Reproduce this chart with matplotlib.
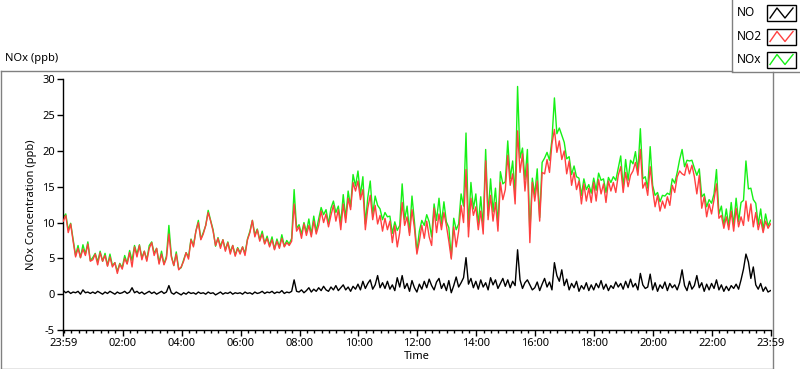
import numpy as np
import matplotlib
matplotlib.use("Agg")
import matplotlib.pyplot as plt
from matplotlib.patches import Rectangle

# ---- data: one sample every 5 minutes starting 23:59 ----
minutes = np.arange(0, 1441, 5)

no2 = [
    10.2, 11.0, 8.6, 9.8, 7.4, 5.2, 6.4, 5.1, 6.3, 5.4, 7.0, 4.6,
    4.8, 5.6, 4.1, 5.8, 4.6, 5.4, 3.9, 5.2, 3.8, 4.4, 2.9, 4.2,
    3.5, 5.0, 4.2, 5.8, 3.8, 6.6, 5.2, 6.8, 4.8, 6.0, 4.6, 6.4,
    7.2, 5.4, 6.4, 4.2, 5.6, 4.1, 5.0, 8.4, 5.2, 4.0, 5.6, 3.4,
    3.8, 4.6, 5.8, 4.9, 7.6, 6.6, 8.8, 10.0, 7.6, 8.4, 9.6, 11.4,
    10.2, 8.8, 6.8, 7.8, 6.4, 7.6, 6.0, 7.2, 5.6, 6.8, 5.3, 6.4,
    5.6, 6.6, 5.4, 7.6, 8.6, 10.3, 8.0, 9.0, 7.4, 8.4, 7.0, 7.8,
    6.6, 7.6, 6.2, 7.4, 6.4, 7.8, 6.6, 7.2, 6.8, 7.4, 12.6, 8.8,
    9.4, 7.8, 9.8, 8.2, 9.6, 8.0, 10.2, 8.4, 9.6, 11.6, 10.0, 11.2,
    9.4, 11.0, 12.4, 10.2, 11.8, 9.0, 12.6, 10.0, 13.4, 11.8, 15.6, 14.4,
    15.8, 13.2, 14.6, 9.0, 12.0, 13.8, 10.4, 12.4, 9.8, 11.0, 8.8, 10.6,
    9.0, 10.2, 7.2, 9.6, 6.6, 8.6, 12.8, 9.6, 10.8, 8.2, 11.8, 9.2,
    5.6, 7.4, 9.6, 7.8, 10.2, 8.0, 6.8, 12.0, 8.6, 11.2, 9.0, 11.4,
    9.6, 7.4, 4.9, 9.4, 6.6, 8.8, 12.4, 10.0, 17.4, 8.0, 13.4, 11.0,
    12.2, 9.0, 11.6, 8.4, 18.6, 10.4, 13.8, 10.2, 12.8, 8.8, 15.6, 13.2,
    14.6, 19.4, 15.2, 16.8, 12.6, 22.8, 17.0, 19.6, 14.4, 18.2, 7.2, 15.6,
    13.0, 15.8, 10.2, 17.0, 16.8, 18.8, 17.0, 21.0, 23.0, 19.8, 21.4, 18.8,
    20.0, 16.8, 18.6, 15.2, 17.0, 14.6, 15.8, 12.6, 15.4, 13.0, 14.8, 12.8,
    15.6, 13.0, 16.0, 14.0, 15.4, 12.8, 15.8, 14.4, 15.6, 14.2, 16.6, 17.8,
    14.2, 17.0, 15.0, 16.6, 17.2, 18.4, 16.6, 20.2, 14.8, 15.6, 13.8, 17.8,
    14.6, 12.2, 13.8, 11.6, 13.0, 12.0, 13.6, 12.4, 15.2, 14.2, 16.4, 17.2,
    16.8, 16.6, 18.2, 16.8, 18.0, 16.4, 14.0, 16.6, 12.0, 13.6, 10.8, 12.6,
    11.2, 13.2, 15.4, 10.6, 11.0, 9.2, 10.8, 9.0, 11.6, 8.8, 12.0, 9.4,
    10.8, 9.6, 13.0, 10.2, 12.6, 9.4, 11.4, 9.0, 10.4, 8.6, 10.2, 9.2, 9.8,
]

no = [
    0.5, 0.2, 0.4, 0.1, 0.3, 0.2, 0.4, 0.0, 0.6, 0.2, 0.3, 0.1,
    0.3, 0.1, 0.4, 0.2, 0.0, 0.3, 0.1, 0.4, 0.2, 0.0, 0.3, 0.1,
    0.2, 0.4, 0.1, 0.3, 0.9, 0.2, 0.4, 0.1, 0.3, 0.0, 0.2, 0.4,
    0.1, 0.3, 0.0, 0.2, 0.4, 0.1, 0.3, 1.2, 0.2, 0.0, 0.3, 0.1,
    -0.1, 0.2, 0.0, 0.3, 0.1, 0.2, 0.0, 0.3, 0.1, 0.2, 0.0, 0.3,
    0.1, 0.2, -0.1, 0.1, 0.3, 0.0, 0.2, 0.1, 0.3, 0.0, 0.2, 0.1,
    0.2, 0.0, 0.3, 0.1, 0.2, 0.0, 0.3, 0.1, 0.2, 0.4, 0.1, 0.3,
    0.2, 0.4, 0.1, 0.3, 0.2, 0.5, 0.1, 0.3, 0.2, 0.4, 2.0, 0.4,
    0.3, 0.6, 0.2, 0.5, 0.9, 0.3, 0.7, 0.4, 0.9, 0.5, 1.1, 0.6,
    0.4, 1.0, 0.6, 1.2, 0.5, 0.9, 1.3, 0.6, 1.0, 0.4, 1.1, 0.7,
    1.4, 0.6, 1.8, 0.8, 1.5, 2.0, 0.7, 1.3, 2.6, 0.9, 1.6, 0.8,
    1.8, 0.7, 1.3, 0.5, 2.3, 1.0, 2.6, 0.8, 1.5, 0.4, 1.9, 0.9,
    0.3, 1.4, 0.7, 1.8, 0.9, 2.1, 1.2, 0.6, 1.7, 2.2, 0.8, 1.5,
    0.5, 1.9, 0.2, 1.2, 2.4, 1.0, 1.6, 2.3, 5.1, 1.4, 2.2, 0.9,
    1.8, 0.7, 2.0, 1.0, 1.6, 0.6, 2.3, 1.3, 2.0, 0.8, 1.5, 2.2,
    1.1, 2.0, 0.9, 1.8, 1.2, 6.2, 2.0, 0.8, 1.6, 2.0, 1.3, 0.6,
    0.9, 1.7, 0.5, 1.4, 2.2, 1.0, 1.7, 0.6, 4.4, 2.6, 1.8, 3.4,
    1.2, 2.1, 0.6, 1.5, 0.9, 1.8, 0.4, 1.2, 0.7, 1.6, 0.5, 1.3,
    0.6, 1.5, 0.9, 1.9, 0.7, 1.4, 0.5, 1.2, 0.8, 1.7, 1.0, 1.5,
    0.7, 1.8, 0.9, 2.1, 1.0, 1.5, 0.6, 2.9, 1.3, 0.8, 1.0, 2.8,
    0.6, 1.6, 0.4, 1.3, 0.8, 1.7, 0.5, 1.5, 0.9, 1.3, 0.6, 1.6,
    3.4, 1.2, 0.5, 1.8, 0.7, 1.2, 2.6, 0.9, 1.6, 0.4, 1.4, 0.6,
    1.5, 0.8, 2.0, 0.6, 1.3, 0.4, 1.1, 0.5, 1.2, 0.8, 1.4, 0.7,
    2.0, 3.5, 5.6, 4.5, 2.2, 3.8, 1.3, 0.7, 1.5, 0.4, 1.0, 0.3, 0.5,
]

nox = [
    10.7, 11.2, 9.0, 9.9, 7.7, 5.4, 6.8, 5.1, 6.9, 5.6, 7.3, 4.7,
    5.1, 5.7, 4.5, 6.0, 4.6, 5.7, 4.0, 5.6, 4.0, 4.4, 3.2, 4.3,
    3.7, 5.4, 4.3, 6.1, 4.7, 6.8, 5.6, 6.9, 5.1, 6.0, 4.8, 6.8,
    7.3, 5.7, 6.4, 4.4, 6.0, 4.2, 5.3, 9.6, 5.4, 4.0, 5.9, 3.5,
    3.7, 4.8, 5.8, 5.2, 7.7, 6.8, 8.8, 10.3, 7.7, 8.6, 9.6, 11.7,
    10.3, 9.0, 6.7, 7.9, 6.7, 7.6, 6.2, 7.3, 5.9, 6.8, 5.5, 6.5,
    5.8, 6.6, 5.7, 7.7, 8.8, 10.3, 8.3, 9.1, 7.6, 8.8, 7.1, 8.1,
    6.8, 8.0, 6.3, 7.7, 6.6, 8.3, 6.7, 7.5, 7.0, 7.8, 14.6, 9.2,
    9.7, 8.4, 10.0, 8.7, 10.5, 8.3, 10.9, 8.8, 10.5, 12.1, 11.1, 11.8,
    9.8, 12.0, 13.0, 11.4, 12.3, 9.9, 13.9, 10.6, 14.4, 12.2, 16.7, 15.1,
    17.2, 13.8, 16.4, 9.8, 13.5, 15.8, 11.1, 13.7, 12.4, 11.9, 10.4, 11.4,
    10.8, 10.9, 8.5, 10.1, 8.9, 9.6, 15.4, 10.4, 12.3, 8.6, 13.7, 10.1,
    5.9, 8.8, 10.3, 9.6, 11.1, 10.1, 8.0, 12.6, 10.3, 13.4, 9.8, 12.9,
    10.1, 9.3, 5.1, 10.6, 9.0, 9.8, 14.0, 12.3, 22.5, 9.4, 15.6, 11.9,
    14.0, 9.7, 13.6, 9.4, 20.2, 11.0, 16.1, 11.5, 14.8, 9.6, 17.1, 15.4,
    15.7, 21.4, 16.1, 18.6, 13.8, 29.0, 19.0, 20.4, 16.0, 20.2, 8.5, 16.2,
    13.9, 17.5, 10.7, 18.4, 19.0, 19.8, 18.7, 21.6, 27.4, 22.4, 23.2, 22.2,
    21.2, 18.9, 19.2, 16.7, 17.9, 16.4, 16.2, 13.8, 16.1, 14.6, 15.3, 14.1,
    16.2, 14.5, 16.9, 15.9, 16.1, 14.2, 16.3, 15.6, 16.4, 15.9, 17.6, 19.3,
    14.9, 18.8, 15.9, 18.7, 18.2, 19.9, 17.2, 23.1, 16.1, 16.4, 14.8, 20.6,
    15.2, 13.8, 14.2, 12.9, 13.8, 13.7, 14.1, 13.9, 16.1, 15.5, 17.0, 18.8,
    20.2, 17.8, 18.7, 18.6, 18.7, 17.6, 16.6, 17.5, 13.6, 14.0, 12.2, 13.2,
    12.7, 14.0, 17.4, 11.2, 12.3, 9.6, 11.9, 9.5, 12.8, 9.6, 13.4, 10.1,
    12.8, 13.1, 18.6, 14.7, 14.8, 13.2, 12.7, 9.7, 11.9, 9.0, 11.2, 9.5, 10.3,
]

tick_pos = [0, 121, 241, 361, 481, 601, 721, 841, 961, 1081, 1201, 1321, 1440]
tick_labels = ["23:59", "02:00", "04:00", "06:00", "08:00", "10:00", "12:00",
               "14:00", "16:00", "18:00", "20:00", "22:00", "23:59"]
y_ticks = [-5, 0, 5, 10, 15, 20, 25, 30]
series_names = ["NO", "NO2", "NOx"]
series_colors = ["#000000", "#ff4040", "#16f016"]

plt.rcParams['font.family'] = ['Noto Sans', 'DejaVu Sans']

W, H = 800, 369
fig = plt.figure(figsize=(W / 100, H / 100), dpi=100)
fig.patch.set_facecolor("white")

# overlay for panel decorations (pixel coords)
ov = fig.add_axes([0, 0, 1, 1])
ov.set_xlim(0, W)
ov.set_ylim(H, 0)
ov.axis("off")
gray = "#808080"
ov.plot([0.5, 731.5], [70.5, 70.5], color=gray, lw=1)
ov.plot([0.5, 0.5], [70.5, 368.5], color=gray, lw=1)
ov.plot([0.5, 772.5], [368.5, 368.5], color=gray, lw=1)
ov.plot([772.5, 772.5], [72, 369], color=gray, lw=1)
ov.plot([731.5, 731.5], [0, 71], color=gray, lw=1)
ov.plot([731.5, 800], [71.5, 71.5], color=gray, lw=1)
ov.text(5, 58, "NOx (ppb)", fontsize=8, ha="left", va="center", color="black")

ys = [13, 36.5, 59.5]
for name, col, yc in zip(series_names, series_colors, ys):
    ov.text(737, yc, name, fontsize=8.5, ha="left", va="center", color="black")
    ov.add_patch(Rectangle((767, yc - 8), 29, 16, fill=False, ec="black", lw=1))
    ov.plot([770, 777, 785, 793], [yc + 5, yc - 5, yc + 5, yc - 5], color=col, lw=1)

ax = fig.add_axes([63.3 / W, 1 - 330 / H, (770.5 - 63.3) / W, (330 - 79.3) / H])
ax.set_facecolor("white")
ax.plot(minutes, nox, color=series_colors[2], lw=1, zorder=2)
ax.plot(minutes, no2, color=series_colors[1], lw=1, zorder=3)
ax.plot(minutes, no, color=series_colors[0], lw=1, zorder=4)

ax.set_xlim(0, 1440)
ax.set_ylim(-5, 30)
ax.set_yticks(y_ticks)
ax.set_yticklabels([str(v) for v in y_ticks])
ax.set_xticks(tick_pos)
ax.set_xticklabels(tick_labels)
ax.set_xticks(np.arange(1, 1441, 15), minor=True)
for s in ["top", "right"]:
    ax.spines[s].set_visible(False)
ax.spines["left"].set_linewidth(1)
ax.spines["bottom"].set_linewidth(1)
ax.tick_params(axis="both", which="major", length=4, width=1, labelsize=8, pad=2)
ax.tick_params(axis="x", which="minor", length=2.5, width=1)
ax.set_ylabel("NOx Concentration (ppb)", fontsize=8, labelpad=4)
ax.set_xlabel("Time", fontsize=8, labelpad=1)

fig.savefig("out.png", dpi=100)
